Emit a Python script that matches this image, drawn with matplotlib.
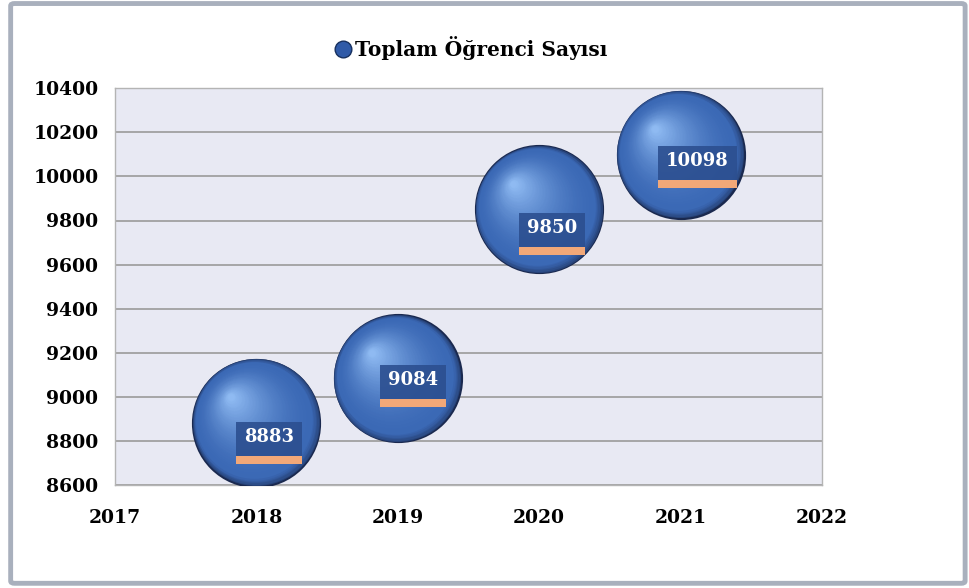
import numpy as np
import matplotlib
matplotlib.use("Agg")
import matplotlib.pyplot as plt
from matplotlib.patches import FancyBboxPatch, Rectangle
from matplotlib.lines import Line2D
import matplotlib.transforms as mtransforms

matplotlib.rcParams.update({'font.family': 'DejaVu Serif', 'font.weight': 'bold'})

# data
years = [2018, 2019, 2020, 2021]
students = [8883, 9084, 9850, 10098]
series_name = "Toplam Öğrenci Sayısı"

# label offsets in points (dx, dy) relative to bubble centre
label_offsets = [(9.4, -10.1), (10.8, -1.4), (9.4, -13.0), (12.2, -4.3)]

fig = plt.figure(figsize=(9.69, 5.88), dpi=100)
fig.patch.set_facecolor('white')

# outer frame
frame = FancyBboxPatch((0.011, 0.008), 0.985, 0.986, boxstyle="round,pad=0,rounding_size=0.004",
                       transform=fig.transFigure, facecolor='none', edgecolor='#a9b0bd', lw=3.5)
fig.patches.append(frame)

ax = fig.add_axes([0.1187, 0.175, 0.7295, 0.675])
ax.set_facecolor('#e8e9f3')
ax.set_xlim(2017, 2022)
ax.set_ylim(8600, 10400)
ax.set_yticks(np.arange(8600, 10401, 200))
ax.set_xticks(np.arange(2017, 2023, 1))
ax.grid(axis='y', color='#a0a0a0', lw=1.3)
ax.set_axisbelow(True)
for s in ax.spines.values():
    s.set_color('#b4b4b4')
    s.set_linewidth(1.0)
ax.tick_params(axis='y', length=0, labelsize=13.5, pad=12)
ax.tick_params(axis='x', length=0, labelsize=13.5, pad=17)

# bubbles: stacked circles for a shaded sphere look
dark = np.array([0.10, 0.16, 0.31])
mid = np.array([0.23, 0.41, 0.71])
light = np.array([0.56, 0.73, 0.95])
diam = 93.0  # points
n = 60
for i in range(n):
    t = i / (n - 1)
    if t < 0.1:
        c = dark + (mid - dark) * (t / 0.1) ** 0.5
    else:
        c = mid + (light - mid) * ((t - 0.1) / 0.9) ** 1.7
    d = diam * (1 - 0.95 * t)
    shift = 0.2 * diam * t / 72
    off = mtransforms.ScaledTranslation(-shift, shift, fig.dpi_scale_trans)
    ax.scatter(years, students, s=d ** 2, color=c, linewidths=0, transform=ax.transData + off, zorder=3)

# data labels (figure level so they sit over their boxes)
labels = []
for x, y, (dx, dy) in zip(years, students, label_offsets):
    tr = ax.transData + mtransforms.ScaledTranslation(dx / 72, dy / 72, fig.dpi_scale_trans)
    labels.append(fig.text(x, y, f"{y}", ha='center', va='center', color='white', fontsize=13,
                           fontweight='bold', transform=tr, zorder=10))

fig.canvas.draw()
r = fig.canvas.get_renderer()
inv = fig.transFigure.inverted()
for t in labels:
    bb = t.get_window_extent(r)
    x0, x1 = bb.x0 - 8, bb.x1 + 8
    y_top, y_bot = bb.y1 + 6, bb.y0 - 10
    (fx0, fy0), (fx1, fy1) = inv.transform([(x0, y_bot), (x1, y_top)])
    fig.patches.append(Rectangle((fx0, fy0), fx1 - fx0, fy1 - fy0, transform=fig.transFigure,
                                 facecolor='#2c4f90', edgecolor='none', alpha=0.9, zorder=6))
    (gx0, gy0), (gx1, gy1) = inv.transform([(x0, y_bot - 8), (x1, y_bot)])
    fig.patches.append(Rectangle((gx0, gy0), gx1 - gx0, gy1 - gy0, transform=fig.transFigure,
                                 facecolor='#f2a878', edgecolor='none', zorder=6))

# legend
handle = Line2D([], [], ls='none', marker='o', ms=12, mfc='#2f5aa8', mec='#17305f')
fig.legend([handle], [series_name], loc='center', bbox_to_anchor=(0.485, 0.918), frameon=False,
           prop={'family': 'DejaVu Serif', 'weight': 'bold', 'size': 14.5}, handletextpad=0.1,
           handlelength=1.0)

fig.savefig('out.png', dpi=100, facecolor='white')
